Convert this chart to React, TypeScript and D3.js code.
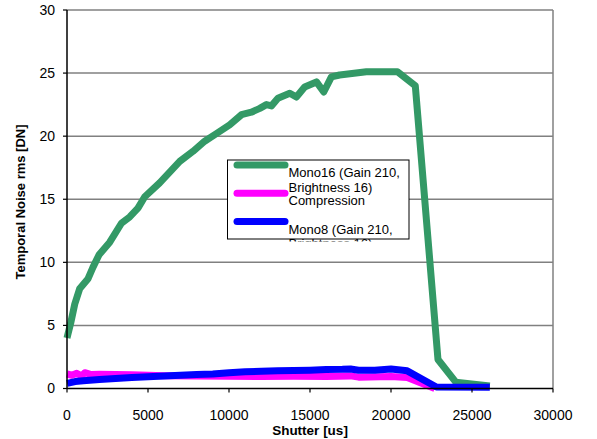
import React from 'react';
import * as d3 from 'd3';

// shutter [us] vs temporal noise [DN]
const mono16: [number, number][] = [
  [0, 4.0], [230, 5.2], [480, 6.7], [780, 7.9], [1300, 8.7], [1600, 9.6],
  [1980, 10.6], [2640, 11.6], [3360, 13.1], [3870, 13.6], [4380, 14.3],
  [4800, 15.2], [5720, 16.3], [6960, 18.0], [7780, 18.8], [8500, 19.6],
  [9220, 20.2], [10040, 20.9], [10770, 21.7], [11380, 21.9], [11900, 22.2],
  [12310, 22.5], [12620, 22.4], [13020, 23.0], [13750, 23.4], [14160, 23.1],
  [14670, 23.9], [15400, 24.3], [15850, 23.5], [16320, 24.7], [16830, 24.85],
  [18480, 25.1], [20400, 25.1], [21500, 24.0], [22900, 2.3], [24000, 0.5],
  [26100, 0.2]
];

const compression: [number, number][] = [
  [0, 1.15], [300, 1.05], [600, 1.2], [900, 1.0], [1100, 1.25], [1500, 1.1],
  [2000, 1.12], [3000, 1.1], [4000, 1.08], [5000, 1.05], [6000, 1.02],
  [8000, 1.0], [10000, 0.97], [12000, 0.95], [14000, 0.97], [16000, 0.95],
  [17500, 1.0], [18000, 0.9], [20000, 0.95], [21000, 0.87], [22700, 0.0]
];

const mono8: [number, number][] = [
  [0, 0.4], [500, 0.55], [1000, 0.62], [2000, 0.72], [3000, 0.8], [4000, 0.87],
  [5000, 0.93], [6000, 1.0], [7000, 1.05], [8000, 1.1], [9000, 1.15],
  [10000, 1.25], [11000, 1.32], [12000, 1.36], [13000, 1.4], [14000, 1.42],
  [15000, 1.45], [16000, 1.5], [17000, 1.52], [17500, 1.55], [18000, 1.45],
  [19000, 1.45], [20000, 1.55], [21000, 1.4], [22800, 0.12], [26100, 0.1]
];

const xTicks = [0, 5000, 10000, 15000, 20000, 25000, 30000];
const yTicks = [0, 5, 10, 15, 20, 25, 30];

const legendItems = [
  { color: '#339966', lines: ['Mono16 (Gain 210,', 'Brightness 16)'] },
  { color: '#ff00ff', lines: ['Compression'] },
  { color: '#0000ff', lines: ['Mono8 (Gain 210,', 'Brightness 16)'] }
];

const W = 597, H = 439;
const left = 67, right = 553, top = 10, bottom = 388.5;
const font = 'Liberation Sans, Arial, sans-serif';

export default function App() {
  const x = d3.scaleLinear().domain([0, 30000]).range([left, right]);
  const y = d3.scaleLinear().domain([0, 30]).range([bottom, top]);
  const line = d3.line<[number, number]>().x(d => x(d[0])).y(d => y(d[1]));

  const series = [
    { data: mono16, color: '#339966' },
    { data: compression, color: '#ff00ff' },
    { data: mono8, color: '#0000ff' }
  ];

  // legend box
  const lx = 227.5, ly = 160, lw = 181.5, lh = 79;

  return (
    <svg width={W} height={H} style={{ position: 'absolute', left: 0, top: 0, background: '#fff' }}
      fontFamily={font}>
      <defs>
        <clipPath id="legclip">
          <rect x={lx} y={ly} width={lw} height={lh + 2.5} />
        </clipPath>
      </defs>

      {/* gridlines */}
      {yTicks.filter(t => t > 0).map(t => (
        <line key={t} x1={left} x2={right} y1={y(t)} y2={y(t)} stroke="#808080" strokeWidth={1.5} />
      ))}
      <line x1={right} x2={right} y1={top} y2={bottom} stroke="#808080" strokeWidth={1.5} />

      {/* series */}
      {series.map((s, i) => (
        <path key={i} d={line(s.data) || ''} fill="none" stroke={s.color}
          strokeWidth={7} strokeLinejoin="round" />
      ))}

      {/* axes */}
      <line x1={left} x2={left} y1={top} y2={bottom} stroke="#000" strokeWidth={1.5} />
      <line x1={left} x2={right} y1={bottom} y2={bottom} stroke="#000" strokeWidth={1.5} />
      {yTicks.map(t => (
        <g key={t}>
          <line x1={left - 4} x2={left} y1={y(t)} y2={y(t)} stroke="#000" strokeWidth={1.2} />
          <text x={55} y={y(t)} dy="0.35em" textAnchor="end" fontSize={14}>{t}</text>
        </g>
      ))}
      {xTicks.map(t => (
        <g key={t}>
          <line x1={x(t)} x2={x(t)} y1={bottom} y2={bottom + 4} stroke="#000" strokeWidth={1.2} />
          <text x={x(t)} y={420} textAnchor="middle" fontSize={14}>{t}</text>
        </g>
      ))}

      <text x={x(15000)} y={435} textAnchor="middle" fontSize={13.5} fontWeight="bold">Shutter [us]</text>
      <text transform={`translate(25,${202}) rotate(-90)`} textAnchor="middle" fontSize={13}
        fontWeight="bold">Temporal Noise rms [DN]</text>

      {/* legend */}
      <rect x={lx} y={ly} width={lw} height={lh} fill="#fff" stroke="#000" strokeWidth={1} />
      <g clipPath="url(#legclip)">
        {legendItems.map((it, i) => {
          const sy = ly + 5 + i * 28.3;
          return (
            <g key={i}>
              <line x1={lx + 9.5} x2={lx + 57.5} y1={sy} y2={sy} stroke={it.color} strokeWidth={7}
                strokeLinecap="round" />
              {it.lines.map((t, j) => (
                <text key={j} x={lx + 61} y={sy + 12 + j * 14.5} fontSize={13}>{t}</text>
              ))}
            </g>
          );
        })}
      </g>
    </svg>
  );
}
